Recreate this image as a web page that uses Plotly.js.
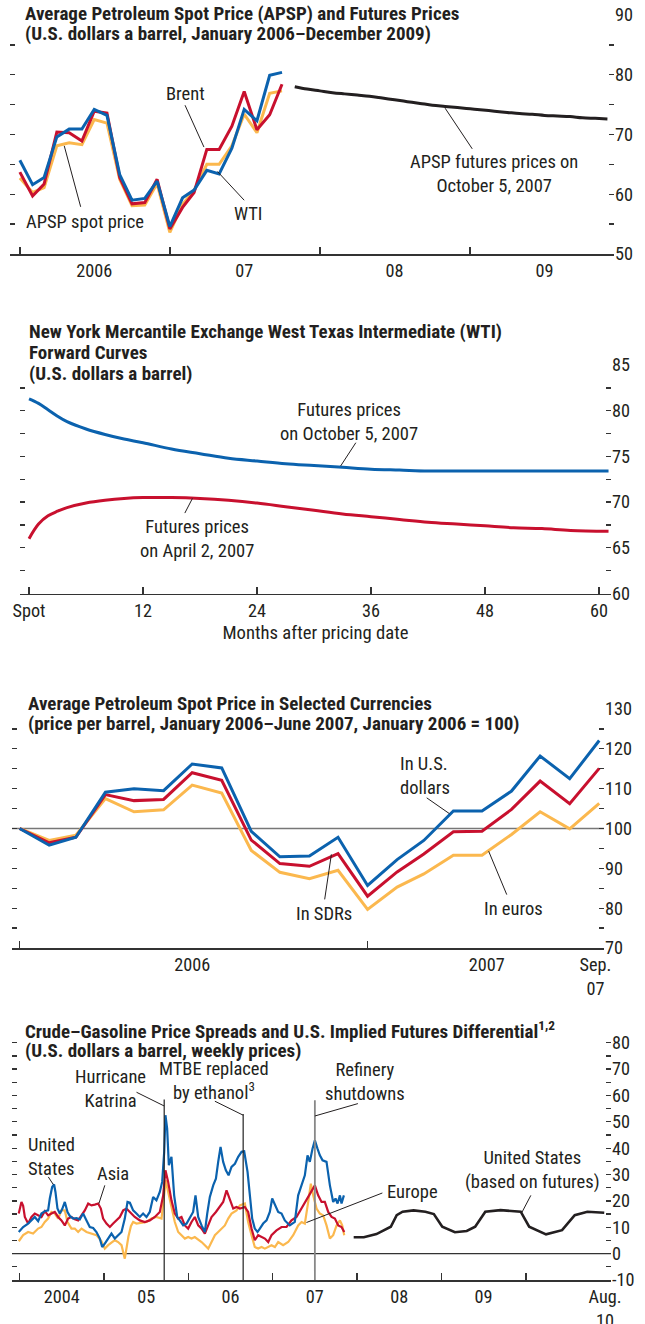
<!DOCTYPE html>
<html><head><meta charset="utf-8">
<script src="https://cdn.plot.ly/plotly-3.0.1.min.js"></script>
<style>html,body{margin:0;padding:0;background:#fff}#chart{width:645px;height:1324px}</style>
</head><body><div id="chart"></div>
<script>
// ---------- Panel 1: APSP spot and futures ----------
const p1SpotMonths = ['2006-01-01','2006-02-01','2006-03-01','2006-04-01','2006-05-01','2006-06-01','2006-07-01','2006-08-01','2006-09-01','2006-10-01','2006-11-01','2006-12-01','2007-01-01','2007-02-01','2007-03-01','2007-04-01','2007-05-01','2007-06-01','2007-07-01','2007-08-01','2007-09-01','2007-10-01'];
const p1WTI   = [65.7,61.6,62.8,69.6,70.9,70.9,74.2,73.2,63.3,59.0,59.3,62.2,54.6,59.4,60.7,64.0,63.4,67.7,74.2,72.3,79.9,80.4];
const p1Brent = [63.7,59.7,61.7,70.4,70.3,68.9,73.9,73.6,62.8,58.4,58.6,62.5,54.2,57.8,60.3,67.5,67.5,71.4,77.2,70.8,73.3,78.4];
const p1APSP  = [62.7,60.3,61.1,68.1,68.6,68.3,72.5,71.9,62.5,58.1,58.2,61.8,53.6,58.3,60.6,65.0,65.0,68.1,73.4,70.3,76.9,77.3];
const p1FutMonths = ['2007-11-01','2007-12-01','2008-01-01','2008-02-01','2008-03-01','2008-04-01','2008-05-01','2008-06-01','2008-07-01','2008-08-01','2008-09-01','2008-10-01','2008-11-01','2008-12-01','2009-01-01','2009-02-01','2009-03-01','2009-04-01','2009-05-01','2009-06-01','2009-07-01','2009-08-01','2009-09-01','2009-10-01','2009-11-01','2009-12-01'];
const p1Futures = [78.0,77.6,77.3,77.0,76.8,76.6,76.4,76.1,75.8,75.5,75.2,74.9,74.7,74.5,74.3,74.1,73.9,73.7,73.5,73.4,73.2,73.1,73.0,72.8,72.7,72.6];
const p1TickPos = ['2006-07-01','2007-07-01','2008-07-01','2009-07-01'];
const p1TickText = ['2006','07','08','09'];
const p1YearStarts = ['2006-01-01','2007-01-01','2008-01-01','2009-01-01'];

// ---------- Panel 2: WTI forward curves ----------
const p2Months = [0,1,2,3,4,6,8,10,12,15,18,21,24,27,30,33,36,39,42,45,48,51,54,57,61];
const p2Oct = [81.3,80.8,80.1,79.4,78.8,78.0,77.4,76.9,76.5,75.8,75.3,74.8,74.5,74.2,74.0,73.8,73.6,73.5,73.4,73.4,73.4,73.4,73.4,73.4,73.4];
const p2Apr = [66.0,67.6,68.5,69.0,69.4,69.9,70.2,70.4,70.5,70.5,70.4,70.2,69.9,69.5,69.1,68.7,68.4,68.1,67.8,67.6,67.4,67.2,67.1,66.9,66.8];
const p2TickPos = [0,12,24,36,48,60];
const p2TickText = ['Spot','12','24','36','48','60'];

// ---------- Panel 3: APSP in selected currencies ----------
const p3Months = ['2006-01-01','2006-02-01','2006-03-01','2006-04-01','2006-05-01','2006-06-01','2006-07-01','2006-08-01','2006-09-01','2006-10-01','2006-11-01','2006-12-01','2007-01-01','2007-02-01','2007-03-01','2007-04-01','2007-05-01','2007-06-01','2007-07-01','2007-08-01','2007-09-01'];
const p3USD = [100,95.8,97.8,109.1,110.0,109.5,116.2,115.2,99.3,92.9,93.1,97.8,85.7,92.2,97.0,104.4,104.4,109.4,118.2,112.5,122.1];
const p3SDR = [100,96.4,97.8,108.5,107.0,107.3,114.0,112.1,97.1,91.2,90.5,93.7,83.0,89.1,93.6,99.2,99.3,104.8,111.9,106.2,115.1];
const p3EUR = [100,97.0,98.3,107.5,104.2,104.7,110.9,108.9,94.5,89.0,87.4,89.5,79.7,85.3,88.6,93.3,93.3,98.5,104.2,99.9,106.3];
const p3TickPos = ['2006-07-01','2007-05-06','2007-08-28'];
const p3TickText = ['2006','2007','Sep.<br>07'];
const p3YearStarts = ['2006-01-01','2007-01-01'];

// ---------- Panel 4: crude-gasoline spreads (x in decimal years) ----------
const p4USYears = [2003.99,2004.042,2004.101,2004.141,2004.180,2004.220,2004.259,2004.299,2004.338,2004.358,2004.386,2004.409,2004.425,2004.449,2004.477,2004.504,2004.536,2004.568,2004.595,2004.635,2004.674,2004.714,2004.753,2004.793,2004.832,2004.872,2004.911,2004.951,2004.979,2005.010,2005.050,2005.089,2005.129,2005.168,2005.208,2005.247,2005.279,2005.307,2005.346,2005.385,2005.425,2005.464,2005.504,2005.543,2005.583,2005.622,2005.662,2005.690,2005.714,2005.729,2005.749,2005.769,2005.800,2005.832,2005.868,2005.899,2005.939,2005.979,2006.018,2006.057,2006.085,2006.117,2006.157,2006.196,2006.224,2006.255,2006.295,2006.327,2006.354,2006.382,2006.413,2006.445,2006.477,2006.512,2006.552,2006.591,2006.631,2006.662,2006.702,2006.729,2006.757,2006.788,2006.820,2006.848,2006.887,2006.927,2006.966,2006.994,2007.026,2007.065,2007.105,2007.144,2007.203,2007.262,2007.302,2007.342,2007.381,2007.413,2007.440,2007.472,2007.500,2007.531,2007.559,2007.591,2007.638,2007.678,2007.717,2007.745,2007.769,2007.797,2007.816,2007.844];
const p4USVals = [8.2,10.1,11.4,12.6,13.9,12.3,15.2,16.1,16.4,20.9,25.3,26.2,23.4,17.1,15.2,16.8,19.6,15.8,14.3,13.3,13.5,13.0,15.2,12.6,10.1,9.7,8.2,5.7,2.5,3.8,5.7,7.6,5.7,7.0,8.2,13.3,19.6,19.3,16.4,15.2,13.9,15.2,13.9,15.8,21.5,20.2,23.4,27.2,38.6,52.5,47.4,33.5,36.7,22.1,13.9,12.6,10.7,11.4,13.9,15.8,22.1,13.9,10.7,8.2,15.2,21.5,25.9,28.4,34.8,40.5,34.8,31.6,29.7,32.9,34.1,36.7,38.6,38.8,31.0,22.1,13.3,9.5,8.2,9.5,11.4,12.6,15.8,20.9,18.3,15.8,15.2,12.6,10.7,12.0,22.1,25.9,29.7,37.3,34.8,39.8,43.0,39.8,37.3,35.4,34.8,25.9,19.6,20.9,19.0,22.1,19.0,22.1];
const p4AsiaYears = [2003.99,2004.022,2004.042,2004.062,2004.101,2004.141,2004.180,2004.220,2004.259,2004.299,2004.338,2004.378,2004.417,2004.457,2004.496,2004.536,2004.575,2004.615,2004.654,2004.694,2004.734,2004.773,2004.813,2004.852,2004.892,2004.931,2004.963,2004.990,2005.030,2005.070,2005.109,2005.149,2005.188,2005.228,2005.267,2005.307,2005.365,2005.425,2005.484,2005.543,2005.603,2005.662,2005.702,2005.729,2005.761,2005.800,2005.840,2005.880,2005.919,2005.959,2005.998,2006.038,2006.077,2006.117,2006.157,2006.196,2006.236,2006.275,2006.327,2006.374,2006.413,2006.453,2006.492,2006.532,2006.571,2006.611,2006.670,2006.709,2006.749,2006.788,2006.828,2006.868,2006.907,2006.947,2006.986,2007.045,2007.105,2007.164,2007.223,2007.282,2007.342,2007.401,2007.460,2007.500,2007.539,2007.579,2007.618,2007.658,2007.698,2007.737,2007.777,2007.816,2007.848];
const p4AsiaVals = [15.2,19.6,18.1,13.9,11.4,13.9,15.2,14.5,13.9,16.1,14.5,15.2,15.8,13.9,12.6,10.7,13.3,13.9,13.0,12.6,14.5,16.4,19.0,18.3,18.6,19.0,17.1,13.3,11.4,10.1,11.4,12.6,13.9,16.4,17.1,15.8,13.9,12.6,12.0,12.6,13.9,15.8,22.1,31.6,27.2,20.2,15.2,13.3,13.9,10.7,9.5,12.0,13.9,10.7,9.5,7.6,10.7,13.9,15.8,17.7,19.6,24.0,20.2,17.1,17.7,17.1,17.7,15.8,9.5,5.1,7.0,6.3,5.7,4.4,7.0,8.8,10.1,10.1,12.6,13.9,17.1,20.2,23.4,25.9,22.1,19.6,19.6,15.8,13.9,13.3,10.7,10.1,8.2];
const p4EurYears = [2003.99,2004.042,2004.101,2004.160,2004.220,2004.259,2004.299,2004.338,2004.378,2004.417,2004.457,2004.496,2004.536,2004.568,2004.615,2004.654,2004.694,2004.734,2004.793,2004.852,2004.911,2004.971,2005.010,2005.050,2005.089,2005.129,2005.168,2005.208,2005.247,2005.267,2005.290,2005.320,2005.346,2005.385,2005.445,2005.504,2005.563,2005.622,2005.682,2005.702,2005.733,2005.761,2005.800,2005.840,2005.880,2005.919,2005.959,2005.998,2006.038,2006.077,2006.117,2006.157,2006.196,2006.236,2006.275,2006.315,2006.354,2006.394,2006.433,2006.473,2006.512,2006.571,2006.611,2006.670,2006.709,2006.749,2006.788,2006.828,2006.868,2006.907,2006.947,2006.986,2007.026,2007.065,2007.124,2007.184,2007.243,2007.302,2007.342,2007.381,2007.421,2007.452,2007.480,2007.520,2007.559,2007.599,2007.638,2007.678,2007.717,2007.757,2007.797,2007.824,2007.848];
const p4EurVals = [4.7,7.0,8.2,7.6,9.5,10.1,12.0,13.3,15.8,15.2,13.3,16.4,16.4,12.0,9.5,9.5,8.2,9.5,8.2,7.6,7.0,4.7,1.9,3.2,4.2,5.1,4.4,3.2,-1.9,1.9,6.5,10.5,12.0,11.4,11.8,12.0,13.3,13.9,13.3,18.3,27.8,23.4,17.1,12.0,8.2,7.0,5.7,6.3,5.7,6.3,5.4,4.4,3.2,1.9,4.4,7.0,8.2,9.5,10.7,13.3,15.2,16.4,18.3,19.0,12.0,7.0,2.5,1.9,2.5,1.9,2.5,3.2,2.5,4.4,3.2,4.4,7.0,10.7,12.0,11.4,19.6,26.5,22.1,17.1,15.2,14.5,10.7,5.7,7.0,10.7,12.6,10.7,7.0];
const p4FutYears = [2007.96,2008.08,2008.23,2008.40,2008.47,2008.54,2008.67,2008.81,2008.91,2009.01,2009.16,2009.30,2009.40,2009.45,2009.52,2009.70,2009.94,2010.04,2010.24,2010.43,2010.50,2010.58,2010.73,2010.93];
const p4FutVals = [6.2,6.2,7.4,10.2,14.6,15.9,16.4,15.9,15.0,10.2,8.1,8.6,10.2,12.5,15.9,16.5,15.9,10.2,7.3,8.9,11.5,14.6,15.9,15.5];
const p4TickPos = [2004.5,2005.5,2006.5,2007.5,2008.5,2009.5,2010.94];
const p4TickText = ['2004','05','06','07','08','09','Aug.<br>10'];
const p4YearStarts = [2004,2005,2006,2007,2008,2009,2010];
const p4Events = [2005.714, 2006.65, 2007.50];
const p4EventTops = [58.5, 53.0, 58.2];
const p4YTicks = [-10,0,10,20,30,40,50,60,70,80];
const p4YText = ['-10','0','10','20','30','40','50','60','70','80'];

// ---------- font selection (pick an installed condensed face, size to the reference widths) ----------
const ctx = document.createElement('canvas').getContext('2d');
function widthOf(text, size, fam, bold) { ctx.font = (bold ? 'bold ' : '') + size + 'px ' + fam; return ctx.measureText(text).width; }
function installed(name) {
  const probe = 'abcdefghijklmMWil0123456789';
  return ['monospace', 'serif'].some(fb => widthOf(probe, 40, "'" + name + "', " + fb) !== widthOf(probe, 40, fb));
}
const candidates = ['Liberation Sans Narrow', 'Roboto Condensed', 'DejaVu Sans Condensed', 'Liberation Sans'];
const chosen = candidates.find(installed) || 'sans-serif';
const F = "'" + chosen + "', 'DejaVu Sans Condensed', sans-serif";
function fitSize(text, target, bold, lo, hi) {
  const s = 20 * target / widthOf(text, 20, F, bold);
  return Math.max(lo, Math.min(hi, s));
}
const TITLE_SIZE = fitSize('Average Petroleum Spot Price (APSP) and Futures Prices', 438, true, 12, 19);
const NOTE_SIZE = fitSize('APSP spot price', 118, false, 12, 19);
const AXTITLE_SIZE = fitSize('Months after pricing date', 186, false, 12, 19);
const TICK_SIZE = fitSize('2006', 36, false, 12, 18.5);

const TXT = '#231f20';
const BLUE = '#0b62ae', RED = '#c8102e', ORANGE = '#fbb84e', BLACK = '#231f20';
const W = 645, H = 1324;
const px = v => v / W;
const py = v => 1 - v / H;
const tickFont = {family: F, size: TICK_SIZE, color: TXT};

function yAxis(anchor, dom, range, dtick, minorDtick, extra) {
  return Object.assign({
    anchor: anchor, domain: dom, range: range, side: 'right',
    tickmode: 'linear', tick0: 0, dtick: dtick,
    ticks: 'inside', ticklen: 5, tickwidth: 1.3, tickcolor: '#333',
    mirror: 'ticks', showline: false, showgrid: false, zeroline: false,
    minor: {tickmode: 'linear', tick0: 0, dtick: minorDtick, ticks: 'inside', ticklen: 5, tickwidth: 1.3, tickcolor: '#333', showgrid: false},
    tickfont: tickFont, fixedrange: true
  }, extra || {});
}
function xAxis(anchor, dom, range, type, tickvals, ticktext, minorVals, extra) {
  const a = {
    anchor: anchor, domain: dom, range: range, type: type,
    tickmode: 'array', tickvals: tickvals, ticktext: ticktext,
    ticks: minorVals ? '' : 'inside', ticklen: 7, tickwidth: 1.5, tickcolor: '#333',
    showline: true, linecolor: '#333', linewidth: 1.5,
    showgrid: false, zeroline: false, tickfont: tickFont, fixedrange: true
  };
  if (minorVals) a.minor = {tickmode: 'array', tickvals: minorVals, ticks: 'inside', ticklen: 7, tickwidth: 1.5, tickcolor: '#333', showgrid: false};
  return Object.assign(a, extra || {});
}

const line = (x, y, color, xa, ya, width, shape) => ({
  type: 'scatter', mode: 'lines', x: x, y: y, xaxis: xa, yaxis: ya,
  line: {color: color, width: width || 3, shape: shape || 'linear'}, hoverinfo: 'skip', showlegend: false
});

const traces = [
  line(p1SpotMonths, p1APSP, ORANGE, 'x', 'y'),
  line(p1SpotMonths, p1Brent, RED, 'x', 'y'),
  line(p1SpotMonths, p1WTI, BLUE, 'x', 'y'),
  line(p1FutMonths, p1Futures, BLACK, 'x', 'y', 3, 'spline'),
  line(p2Months, p2Apr, RED, 'x2', 'y2', 3, 'spline'),
  line(p2Months, p2Oct, BLUE, 'x2', 'y2', 3, 'spline'),
  line(p3Months, p3EUR, ORANGE, 'x3', 'y3'),
  line(p3Months, p3SDR, RED, 'x3', 'y3'),
  line(p3Months, p3USD, BLUE, 'x3', 'y3'),
  line(p4EurYears, p4EurVals, ORANGE, 'x4', 'y4', 2.2),
  line(p4AsiaYears, p4AsiaVals, RED, 'x4', 'y4', 2.2),
  line(p4USYears, p4USVals, BLUE, 'x4', 'y4', 2.2),
  line(p4FutYears, p4FutVals, BLACK, 'x4', 'y4', 2.6)
];

const lead = (xa, ya, x0, y0, x1, y1) => ({type: 'line', xref: xa, yref: ya, x0: x0, y0: y0, x1: x1, y1: y1, line: {color: TXT, width: 1}});
const shapes = [
  lead('x','y','2007-02-07',74.9,'2007-03-25',67.9),
  lead('x','y','2007-07-01',59.0,'2007-04-27',63.8),
  lead('x','y','2006-05-29',57.9,'2006-04-19',68.1),
  lead('x','y','2009-01-06',67.6,'2008-11-01',74.4),
  lead('x2','y2',34.4,76.5,32.8,73.95),
  lead('x2','y2',16.4,68.8,17.2,70.4),
  lead('x3','y3','2007-03-04',107.7,'2007-03-28',103.7),
  lead('x3','y3','2006-11-17',82.2,'2006-11-24',93.5),
  lead('x3','y3','2007-05-27',83.4,'2007-05-08',94.3),
  {type: 'line', xref: 'x3 domain', yref: 'y3', x0: 0, x1: 1, y0: 100, y1: 100, line: {color: '#777', width: 1.5}, layer: 'below'},
  {type: 'line', xref: 'x4 domain', yref: 'y4', x0: 0, x1: 1, y0: 0, y1: 0, line: {color: '#333', width: 1.2}, layer: 'below'},
  {type: 'line', xref: 'x4', yref: 'y4', x0: p4Events[0], x1: p4Events[0], y0: -10, y1: p4EventTops[0], line: {color: '#222', width: 1.2}},
  {type: 'line', xref: 'x4', yref: 'y4', x0: p4Events[1], x1: p4Events[1], y0: -10, y1: p4EventTops[1], line: {color: '#222', width: 1.2}},
  {type: 'line', xref: 'x4', yref: 'y4', x0: p4Events[2], x1: p4Events[2], y0: -10, y1: p4EventTops[2], line: {color: '#888', width: 1.8}},
  lead('x4','y4',2005.386,61.2,2005.714,56.0),
  lead('x4','y4',2006.315,57.8,2006.65,52.5),
  lead('x4','y4',2008.01,56.9,2007.50,52.2),
  lead('x4','y4',2004.34,29.1,2004.40,26.2),
  lead('x4','y4',2005.01,25.9,2004.94,19.0),
  lead('x4','y4',2008.30,23.0,2007.40,11.8),
  lead('x4','y4',2010.06,22.1,2009.95,15.4)
];

const note = (text, x, y, opts) => Object.assign({
  text: text, xref: 'paper', yref: 'paper', x: px(x), y: py(y),
  xanchor: 'center', yanchor: 'middle', showarrow: false, align: 'center',
  font: {family: F, size: NOTE_SIZE, color: TXT}
}, opts || {});
// each title line is its own annotation, so line spacing follows the reference
const titleLines = (lines, x, ys) => lines.map((t, i) => note('<b>' + t + '</b>', x, ys[i],
  {xanchor: 'left', align: 'left', font: {family: F, size: TITLE_SIZE, color: TXT}}));

const annotations = [].concat(
  titleLines(['Average Petroleum Spot Price (APSP) and Futures Prices',
              '(U.S. dollars a barrel, January 2006–December 2009)'], 23, [14, 34]),
  [note('Brent', 185, 94),
   note('WTI', 248, 214),
   note('APSP spot price', 85, 222),
   note('APSP futures prices on<br>October 5, 2007', 494, 174)],

  titleLines(['New York Mercantile Exchange West Texas Intermediate (WTI)',
              'Forward Curves',
              '(U.S. dollars a barrel)'], 27, [331, 352, 373]),
  [note('Futures prices<br>on October 5, 2007', 349, 422),
   note('Futures prices<br>on April 2, 2007', 197, 539)],

  titleLines(['Average Petroleum Spot Price in Selected Currencies',
              '(price per barrel, January 2006–June 2007, January 2006 = 100)'], 26, [703, 723]),
  [note('In U.S.<br>dollars', 398, 776, {xanchor: 'left', align: 'left'}),
   note('In SDRs', 324, 914),
   note('In euros', 513, 909)],

  titleLines(['Crude–Gasoline Price Spreads and U.S. Implied Futures Differential<sup>1,2</sup>',
              '(U.S. dollars a barrel, weekly prices)'], 23, [1030, 1050]),
  [note('Hurricane<br>Katrina', 110, 1089),
   note('MTBE replaced<br>by ethanol<sup>3</sup>', 214, 1081),
   note('Refinery<br>shutdowns', 365, 1082),
   note('United<br>States', 26, 1157, {xanchor: 'left', align: 'left'}),
   note('Asia', 113, 1174),
   note('Europe', 412, 1192),
   note('United States<br>(based on futures)', 532, 1170)]
);

const layout = {
  width: W, height: H, autosize: false,
  margin: {l: 0, r: 0, t: 0, b: 0, pad: 0},
  paper_bgcolor: '#fff', plot_bgcolor: 'rgba(0,0,0,0)',
  font: {family: F, color: TXT},
  showlegend: false,
  xaxis: xAxis('y', [px(10), px(614)], ['2005-12-08', '2009-12-17'], 'date', p1TickPos, p1TickText, p1YearStarts),
  yaxis: yAxis('x', [py(254), py(15)], [50, 90], 10, 5),
  xaxis2: xAxis('y2', [px(20), px(611)], [-0.95, 61.26], 'linear', p2TickPos, p2TickText, null,
    {title: {text: 'Months after pricing date', font: {family: F, size: AXTITLE_SIZE, color: TXT}, standoff: 6}}),
  yaxis2: yAxis('x2', [py(593.5), py(365)], [60, 85], 5, 2.5),
  xaxis3: xAxis('y3', [px(12), px(604)], ['2005-12-24', '2007-09-06'], 'date', p3TickPos, p3TickText, p3YearStarts),
  yaxis3: yAxis('x3', [py(948), py(709)], [70, 130], 10, 5),
  xaxis4: xAxis('y4', [px(12), px(611)], [2003.91, 2011.01], 'linear', p4TickPos, p4TickText, p4YearStarts),
  yaxis4: yAxis('x4', [py(1280), py(1029.5)], [-10, 85], 10, 5, {tickmode: 'array', tickvals: p4YTicks, ticktext: p4YText}),
  shapes: shapes,
  annotations: annotations
};

Plotly.newPlot('chart', traces, layout, {displayModeBar: false, staticPlot: true});
</script>
</body></html>
